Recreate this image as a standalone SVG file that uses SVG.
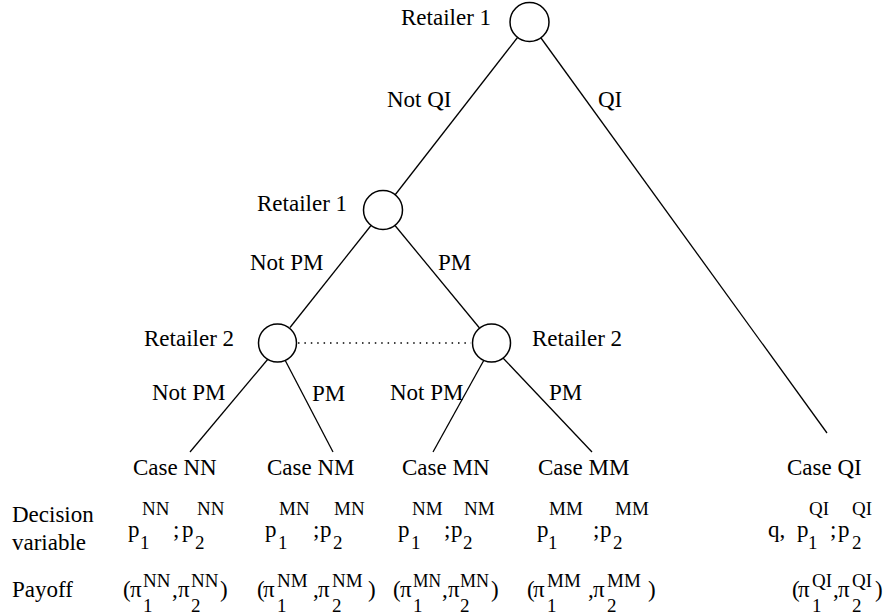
<svg xmlns="http://www.w3.org/2000/svg" width="886" height="615" viewBox="0 0 886 615">
<style>
text{font-family:"Liberation Serif","Times New Roman",serif;font-size:23px;fill:#000}
.s{font-size:19px}
circle{fill:#fff;stroke:#000;stroke-width:1.5}
.e{stroke:#000;stroke-width:1.3;fill:none}
.d{stroke:#000;stroke-width:1.5;stroke-dasharray:1.5 4.9;fill:none}
</style>
<rect width="886" height="615" fill="#fff"/>
<g id="connectors">
<line class="e" x1="517.5" y1="37.5" x2="395" y2="195"/>
<line class="e" x1="541" y1="38" x2="827" y2="433"/>
<line class="e" x1="371" y1="225.5" x2="290" y2="327.5"/>
<line class="e" x1="395" y1="225.5" x2="479.5" y2="328"/>
<line class="e" x1="268" y1="359" x2="190" y2="452"/>
<line class="e" x1="285" y1="360" x2="333" y2="452"/>
<line class="e" x1="484" y1="360" x2="433" y2="452"/>
<line class="e" x1="503" y1="358" x2="592" y2="452"/>
<line class="d" x1="298" y1="343" x2="471" y2="343"/>
<text x="387" y="107">Not QI</text>
<text x="598" y="107">QI</text>
<text x="250" y="270">Not PM</text>
<text x="438" y="270">PM</text>
<text x="152" y="400">Not PM</text>
<text x="312" y="401">PM</text>
<text x="390" y="400">Not PM</text>
<text x="549" y="400">PM</text>
</g>
<g id="root">
<circle cx="529.5" cy="22" r="19.5"/>
<text x="401" y="25">Retailer 1</text>
</g>
<g id="r1">
<circle cx="383" cy="210" r="19.5"/>
<text x="257" y="211">Retailer 1</text>
</g>
<g id="r2a">
<circle cx="277.5" cy="343" r="19"/>
<text x="144" y="346">Retailer 2</text>
</g>
<g id="r2b">
<circle cx="491.5" cy="343" r="19"/>
<text x="532" y="346">Retailer 2</text>
</g>
<g id="labels">
<text x="12" y="522">Decision</text>
<text x="12" y="550">variable</text>
<text x="12" y="597">Payoff</text>
</g>
<g id="caseNN">
<text x="133" y="475">Case NN</text>
<text x="128" y="537">p</text><text class="s" x="140" y="549">1</text><text class="s" x="142" y="515">NN</text>
<text x="173" y="537">;</text>
<text x="182" y="537">p</text><text class="s" x="195" y="549">2</text><text class="s" x="197" y="515">NN</text>
<text x="123" y="597">(</text><text x="130" y="597">π</text><text class="s" x="143" y="612">1</text><text class="s" x="143" y="587">NN</text>
<text x="172" y="597">,</text><text x="178" y="597">π</text><text class="s" x="191" y="612">2</text><text class="s" x="191" y="587">NN</text><text x="220" y="597">)</text>
</g>
<g id="caseNM">
<text x="267" y="475">Case NM</text>
<text x="265" y="537">p</text><text class="s" x="278" y="549">1</text><text class="s" x="279" y="515">MN</text>
<text x="313" y="537">;</text>
<text x="320" y="537">p</text><text class="s" x="333" y="549">2</text><text class="s" x="334" y="515">MN</text>
<text x="257" y="597">(</text><text x="263" y="597">π</text><text class="s" x="277" y="612">1</text><text class="s" x="277" y="587">NM</text>
<text x="313" y="597">,</text><text x="318" y="597">π</text><text class="s" x="332" y="612">2</text><text class="s" x="332" y="587">NM</text><text x="368" y="597">)</text>
</g>
<g id="caseMN">
<text x="402" y="475">Case MN</text>
<text x="398" y="537">p</text><text class="s" x="411" y="549">1</text><text class="s" x="412" y="515">NM</text>
<text x="444" y="537">;</text>
<text x="451" y="537">p</text><text class="s" x="463" y="549">2</text><text class="s" x="464" y="515">NM</text>
<text x="393" y="597">(</text><text x="400" y="597">π</text><text class="s" x="413" y="612">1</text><text class="s" x="413" y="587" textLength="28" lengthAdjust="spacingAndGlyphs">MN</text>
<text x="442" y="597">,</text><text x="448" y="597">π</text><text class="s" x="460" y="612">2</text><text class="s" x="460" y="587" textLength="29" lengthAdjust="spacingAndGlyphs">MN</text><text x="491" y="597">)</text>
</g>
<g id="caseMM">
<text x="538" y="475">Case MM</text>
<text x="537" y="537">p</text><text class="s" x="548" y="549">1</text><text class="s" x="549" y="515">MM</text>
<text x="593" y="537">;</text>
<text x="600" y="537">p</text><text class="s" x="613" y="549">2</text><text class="s" x="615" y="515">MM</text>
<text x="527" y="597">(</text><text x="533" y="597">π</text><text class="s" x="547" y="612">1</text><text class="s" x="547" y="587">MM</text>
<text x="588" y="597">,</text><text x="593" y="597">π</text><text class="s" x="607" y="612">2</text><text class="s" x="607" y="587">MM</text><text x="648" y="597">)</text>
</g>
<g id="caseQI">
<text x="787" y="475">Case QI</text>
<text x="768" y="537">q,</text>
<text x="797" y="537">p</text><text class="s" x="808" y="549">1</text><text class="s" x="809" y="515">QI</text>
<text x="830" y="537">;</text>
<text x="838" y="537">p</text><text class="s" x="852" y="549">2</text><text class="s" x="852" y="515">QI</text>
<text x="792" y="597">(</text><text x="798" y="597">π</text><text class="s" x="812" y="612">1</text><text class="s" x="812" y="587">QI</text>
<text x="833" y="597">,</text><text x="838" y="597">π</text><text class="s" x="852" y="612">2</text><text class="s" x="852" y="587">QI</text><text x="875" y="597">)</text>
</g>
</svg>
